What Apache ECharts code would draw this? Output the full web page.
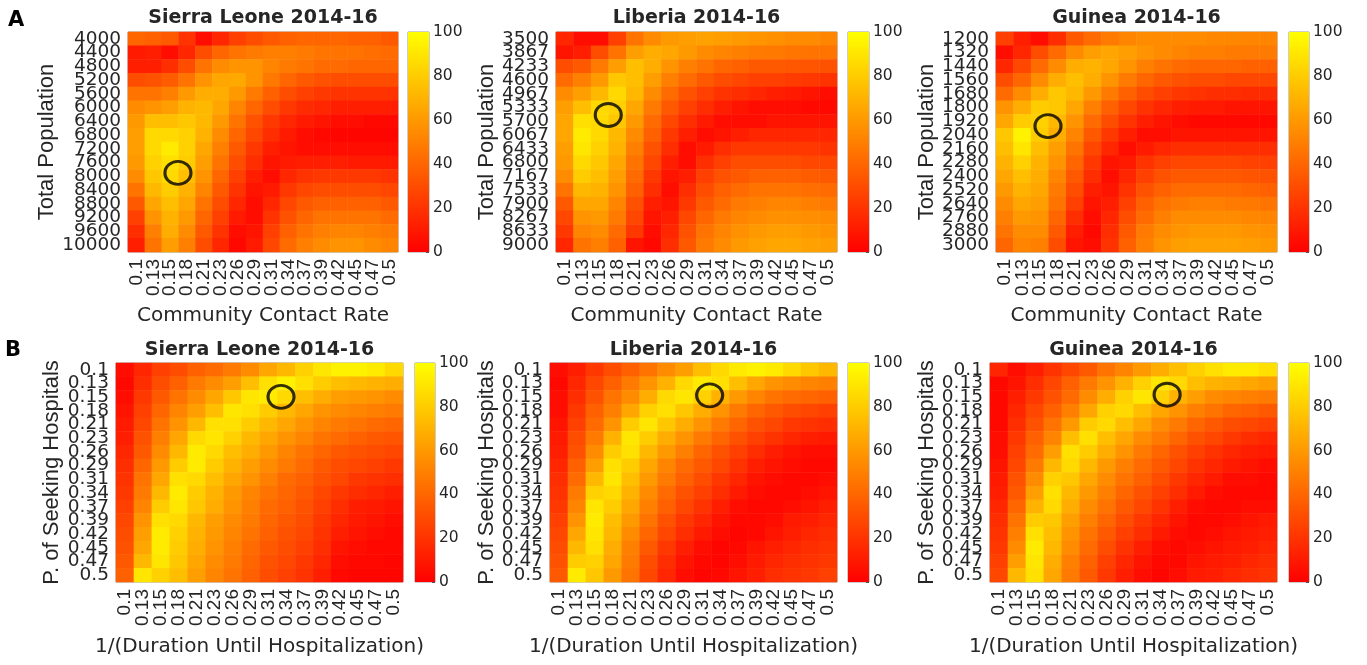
<!DOCTYPE html>
<html>
<head>
<meta charset="utf-8">
<script src="https://cdn.jsdelivr.net/npm/echarts@6.0.0/dist/echarts.min.js"></script>
<style>
html,body{margin:0;padding:0;background:#ffffff;}
#chart{width:1367px;height:665px;}
</style>
</head>
<body>
<div id="chart"></div>
<script>
// ---------- tick labels / categories ----------
const rateTicks = ['0.1','0.13','0.15','0.18','0.21','0.23','0.26','0.29','0.31','0.34','0.37','0.39','0.42','0.45','0.47','0.5'];
const popSierraLeone = ['4000','4400','4800','5200','5600','6000','6400','6800','7200','7600','8000','8400','8800','9200','9600','10000'];
const popLiberia = ['3500','3867','4233','4600','4967','5333','5700','6067','6433','6800','7167','7533','7900','8267','8633','9000'];
const popGuinea = ['1200','1320','1440','1560','1680','1800','1920','2040','2160','2280','2400','2520','2640','2760','2880','3000'];
const colorbarTicks = [0, 20, 40, 60, 80, 100];

// ---------- panel A values (rows: population top->bottom, cols: contact rate) ----------
const heatA_SierraLeone = [
 [40,38,35,20,5,15,25,30,35,38,40,40,40,38,38,35],
 [10,12,5,15,30,40,45,48,50,50,48,46,45,45,43,42],
 [12,12,18,30,45,55,58,58,52,48,45,42,42,40,40,40],
 [30,32,36,45,58,65,66,58,47,40,35,32,30,30,30,30],
 [45,45,50,60,68,68,60,48,38,30,25,22,20,20,20,20],
 [55,58,62,70,72,65,52,40,30,22,17,15,12,12,12,12],
 [60,75,75,78,72,60,45,32,22,15,10,8,5,5,3,3],
 [62,85,85,82,70,55,40,28,18,10,5,3,2,2,2,2],
 [62,85,92,82,65,50,35,22,12,8,5,5,5,5,5,5],
 [60,82,88,80,62,45,30,18,8,10,12,12,12,10,10,10],
 [55,78,85,75,58,40,25,12,5,15,20,22,22,22,22,20],
 [45,72,80,70,52,35,20,8,10,22,28,30,30,30,30,28],
 [35,65,75,65,45,30,15,5,15,28,35,38,38,38,38,35],
 [25,58,70,60,40,25,10,5,20,32,40,45,45,45,45,42],
 [18,50,68,55,35,20,5,8,25,38,45,50,52,52,50,48],
 [12,45,62,50,30,15,3,10,28,42,50,55,58,58,55,52]
];
const heatA_Liberia = [
 [15,5,5,25,45,55,60,62,63,62,60,58,57,55,55,52],
 [8,12,30,45,62,68,65,60,55,52,50,48,47,46,45,45],
 [30,35,48,62,75,68,58,50,45,40,38,35,35,34,33,32],
 [42,50,60,78,75,62,50,42,35,30,28,25,25,23,22,20],
 [55,62,72,85,72,55,42,32,25,20,18,15,12,10,8,5],
 [62,75,85,82,65,48,35,25,18,12,8,5,5,5,3,3],
 [65,88,85,78,60,42,28,18,10,5,5,5,8,8,8,8],
 [65,92,85,72,55,38,22,12,5,8,12,15,15,15,15,15],
 [62,90,82,70,50,32,18,5,10,18,22,22,22,22,22,20],
 [60,85,78,65,45,28,12,5,18,25,30,30,30,30,28,28],
 [55,80,75,62,42,22,8,12,25,32,35,38,38,38,36,35],
 [45,72,70,58,38,18,5,18,30,38,42,45,45,45,43,42],
 [35,65,65,52,32,12,8,22,35,42,48,50,52,52,50,48],
 [28,58,60,48,28,8,12,28,40,48,52,55,57,57,56,55],
 [22,52,55,42,22,5,15,32,45,52,57,60,62,62,60,58],
 [15,45,50,38,8,3,18,35,48,55,60,63,65,65,63,62]
];
const heatA_Guinea = [
 [25,12,5,18,35,42,48,52,55,55,55,55,53,53,52,52],
 [5,15,30,42,55,62,65,62,58,55,52,50,50,48,48,48],
 [15,28,42,55,68,70,65,58,50,45,42,40,40,40,38,38],
 [30,40,55,68,75,68,58,48,40,35,32,30,30,28,28,28],
 [42,55,68,78,72,60,48,38,30,25,22,20,18,18,17,17],
 [58,68,80,78,65,50,38,28,20,15,12,10,10,8,8,8],
 [65,80,82,72,58,42,30,20,12,8,5,3,3,3,3,3],
 [78,95,80,68,52,35,22,12,5,5,8,8,8,8,8,8],
 [75,90,75,62,45,28,15,5,10,15,18,18,18,18,18,18],
 [70,82,70,58,40,22,8,10,20,25,28,28,28,28,26,25],
 [65,75,68,52,35,18,5,15,25,32,35,35,35,35,33,32],
 [60,70,65,48,30,12,8,20,32,38,42,42,42,42,40,38],
 [55,65,62,45,25,8,12,25,38,45,48,50,50,48,47,45],
 [50,60,58,40,18,5,15,30,42,50,55,55,55,55,53,52],
 [45,55,55,35,12,3,18,35,48,55,58,60,60,60,58,57],
 [40,52,50,30,8,5,20,38,50,58,62,63,63,63,62,60]
];

// ---------- panel B values (rows: P. seeking hospitals top->bottom, cols: 1/duration) ----------
const heatB_SierraLeone = [
 [5,15,25,30,38,42,48,55,65,72,82,90,95,95,92,85],
 [3,18,30,38,48,55,62,75,88,95,88,80,75,72,70,68],
 [5,22,35,45,55,65,78,90,92,85,75,68,62,60,58,55],
 [8,25,40,52,62,75,90,88,80,72,65,58,55,52,50,48],
 [10,28,45,58,72,88,88,80,72,65,58,52,48,45,42,40],
 [12,32,50,65,85,90,82,72,65,58,52,45,42,38,35,33],
 [15,35,55,72,92,85,75,68,60,52,45,40,35,32,30,28],
 [18,40,60,80,92,80,70,62,55,48,42,35,30,28,25,22],
 [20,45,65,88,85,75,65,58,50,42,38,32,28,22,20,18],
 [22,48,72,92,80,70,60,52,45,40,35,28,22,18,15,12],
 [25,52,80,90,78,68,58,50,42,38,32,25,18,12,10,8],
 [28,58,88,85,72,62,55,48,40,35,30,22,15,10,8,5],
 [30,62,92,82,70,60,52,45,38,32,28,20,12,8,5,3],
 [32,65,92,80,68,58,50,42,35,30,25,18,8,5,3,3],
 [35,72,90,78,65,55,48,40,32,28,22,15,5,3,3,2],
 [38,90,82,75,62,52,45,38,30,25,20,12,3,2,2,2]
];
const heatB_Liberia = [
 [5,12,22,30,38,45,55,62,75,85,92,95,92,85,78,72],
 [3,15,28,38,48,58,70,85,92,88,75,65,58,55,52,50],
 [5,18,32,45,55,68,85,90,82,70,60,52,45,42,40,38],
 [5,22,38,50,65,82,88,78,68,58,48,40,35,30,28,25],
 [8,25,42,58,80,90,78,68,58,48,40,32,28,22,20,18],
 [10,30,48,70,90,80,68,58,48,40,32,25,20,15,12,10],
 [12,32,55,80,88,72,60,50,40,32,25,18,12,8,5,5],
 [15,38,62,88,80,65,52,42,35,28,20,12,8,5,3,3],
 [18,42,72,90,75,60,48,38,30,22,15,8,5,3,3,5],
 [20,48,82,85,70,55,42,32,25,18,10,5,3,3,5,8],
 [22,52,90,80,65,50,38,28,20,12,5,3,3,5,8,12],
 [25,58,92,75,60,45,32,22,15,8,3,3,5,10,12,15],
 [28,65,90,72,55,40,28,18,10,5,2,3,8,12,15,18],
 [30,72,88,68,50,35,22,12,5,2,3,8,12,15,18,20],
 [32,80,82,65,48,30,18,8,3,2,5,10,15,18,20,22],
 [35,92,78,60,45,28,15,5,2,3,8,12,18,20,22,25]
];
const heatB_Guinea = [
 [15,5,12,20,28,35,45,52,60,68,75,82,88,92,92,88],
 [3,8,18,28,38,48,58,70,82,90,85,75,70,68,65,62],
 [3,12,22,32,42,55,68,82,90,82,70,62,55,52,50,48],
 [3,15,28,38,50,65,82,85,75,65,58,50,45,40,38,35],
 [3,18,32,45,60,80,85,75,65,55,48,40,35,30,28,25],
 [5,22,38,52,75,88,75,65,55,48,40,32,28,22,18,15],
 [5,25,42,62,88,80,68,58,48,40,32,25,20,15,12,10],
 [8,28,48,72,85,72,60,50,42,35,28,20,15,10,8,5],
 [10,32,55,82,78,65,55,45,38,30,22,15,10,5,5,3],
 [12,35,62,88,72,60,50,40,32,25,18,10,5,3,3,3],
 [15,40,70,85,68,55,45,35,28,20,12,5,3,3,5,5],
 [18,45,80,78,62,50,40,30,22,15,8,3,3,5,8,10],
 [20,50,88,75,58,45,35,25,18,10,5,3,5,8,10,12],
 [22,55,92,72,55,42,30,20,12,5,3,5,8,10,12,15],
 [25,62,90,68,50,38,25,15,8,3,3,8,10,12,15,18],
 [28,72,88,65,48,35,22,12,5,2,5,10,12,15,18,20]
];

// ---------- circled points (data units) ----------
const markerA_SierraLeone = [[0.1656, 7900]];
const markerA_Liberia = [[0.166, 5530]];
const markerA_Guinea = [[0.1656, 1962]];
const markerB_SierraLeone = [[0.332, 0.1525]];
const markerB_Liberia = [[0.324, 0.1496]];
const markerB_Guinea = [[0.35, 0.1485]];

// ---------- layout / style ----------
const NARROW = '"Liberation Sans", Arial, sans-serif';
const WIDE = '"DejaVu Sans", sans-serif';
const TXT = '#262626';
const panels = [
  {title:'Sierra Leone 2014-16', xc:rateTicks, yc:popSierraLeone, vals:heatA_SierraLeone, mk:markerA_SierraLeone, xName:'Community Contact Rate', yName:'Total Population', g:{left:128,top:32,width:270,height:220}, cb:{left:408,width:21}, yGap:70, xGap:54, tOff:23},
  {title:'Liberia 2014-16', xc:rateTicks, yc:popLiberia, vals:heatA_Liberia, mk:markerA_Liberia, xName:'Community Contact Rate', yName:'Total Population', g:{left:556,top:32,width:281,height:220}, cb:{left:848,width:21}, yGap:58, xGap:54, tOff:23},
  {title:'Guinea 2014-16', xc:rateTicks, yc:popGuinea, vals:heatA_Guinea, mk:markerA_Guinea, xName:'Community Contact Rate', yName:'Total Population', g:{left:996,top:32,width:281,height:220}, cb:{left:1289,width:20}, yGap:58, xGap:54, tOff:23},
  {title:'Sierra Leone 2014-16', xc:rateTicks, yc:rateTicks, vals:heatB_SierraLeone, mk:markerB_SierraLeone, xName:'1/(Duration Until Hospitalization)', yName:'P. of Seeking Hospitals', g:{left:116,top:363,width:287,height:219}, cb:{left:415,width:20}, yGap:53, xGap:55, tOff:22},
  {title:'Liberia 2014-16', xc:rateTicks, yc:rateTicks, vals:heatB_Liberia, mk:markerB_Liberia, xName:'1/(Duration Until Hospitalization)', yName:'P. of Seeking Hospitals', g:{left:550,top:363,width:287,height:219}, cb:{left:848,width:21}, yGap:52, xGap:55, tOff:22},
  {title:'Guinea 2014-16', xc:rateTicks, yc:rateTicks, vals:heatB_Guinea, mk:markerB_Guinea, xName:'1/(Duration Until Hospitalization)', yName:'P. of Seeking Hospitals', g:{left:990,top:363,width:287,height:219}, cb:{left:1289,width:20}, yGap:52, xGap:55, tOff:22}
];

function extent(labels) {
  const v = labels.map(Number);
  const step = (v[v.length-1] - v[0]) / (v.length - 1);
  return [v[0] - step/2, v[v.length-1] + step/2];
}

const grid = [], xAxis = [], yAxis = [], series = [], graphic = [];
const heatIdx = [];
panels.forEach((p, i) => {
  const gi = grid.length;
  grid.push(Object.assign({show:true, borderColor:'#9a9a9a', borderWidth:1, backgroundColor:'transparent'}, p.g));
  grid.push({show:true, borderColor:'#9a9a9a', borderWidth:1, left:p.cb.left, width:p.cb.width, top:p.g.top, height:p.g.height});

  const xCat = xAxis.length;
  xAxis.push({type:'category', gridIndex:gi, data:p.xc, position:'bottom',
    axisLine:{show:false}, axisTick:{show:false}, splitLine:{show:false},
    axisLabel:{interval:0, rotate:90, fontSize:19, color:TXT, margin:7, fontFamily:NARROW},
    name:p.xName, nameLocation:'middle', nameGap:p.xGap,
    nameTextStyle:{fontSize:20, color:TXT, fontFamily:WIDE}});
  const xv = extent(p.xc);
  const xVal = xAxis.length;
  xAxis.push({type:'value', gridIndex:gi, position:'top', min:xv[0], max:xv[1], show:false});
  const xCb = xAxis.length;
  xAxis.push({type:'category', gridIndex:gi+1, data:['cb'], show:false});

  const yCat = yAxis.length;
  yAxis.push({type:'category', gridIndex:gi, data:p.yc, inverse:true, position:'left',
    axisLine:{show:false}, axisTick:{show:false}, splitLine:{show:false},
    axisLabel:{interval:0, fontSize:18.5, color:TXT, margin:7, fontFamily:WIDE},
    name:p.yName, nameLocation:'middle', nameGap:p.yGap,
    nameTextStyle:{fontSize:22, color:TXT, fontFamily:NARROW}});
  const yv = extent(p.yc);
  const yVal = yAxis.length;
  yAxis.push({type:'value', gridIndex:gi, position:'right', inverse:true, min:yv[0], max:yv[1], show:false});
  const yCb = yAxis.length;
  yAxis.push({type:'value', gridIndex:gi+1, position:'right', min:colorbarTicks[0], max:colorbarTicks[colorbarTicks.length-1], interval:colorbarTicks[1]-colorbarTicks[0],
    axisLine:{show:false}, splitLine:{show:false},
    axisTick:{show:true, inside:true, length:3, lineStyle:{color:'#555'}},
    axisLabel:{fontSize:15.5, color:TXT, margin:4, fontFamily:WIDE}});

  const data = [];
  p.vals.forEach((row, r) => row.forEach((v, c) => data.push([c, r, v])));
  heatIdx.push(series.length);
  series.push({type:'heatmap', xAxisIndex:xCat, yAxisIndex:yCat, data:data, silent:true, emphasis:{disabled:true}, progressive:0});
  series.push({type:'scatter', xAxisIndex:xVal, yAxisIndex:yVal, data:p.mk, symbol:'circle', symbolSize:[26,23], z:5, silent:true,
    itemStyle:{color:'rgba(0,0,0,0)', borderColor:'#000', borderWidth:3}});
  series.push({type:'bar', xAxisIndex:xCb, yAxisIndex:yCb, data:[colorbarTicks[colorbarTicks.length-1]], barWidth:'100%', silent:true,
    itemStyle:{color:new echarts.graphic.LinearGradient(0,0,0,1,[{offset:0,color:'#ffff00'},{offset:1,color:'#ff0000'}])}});

  graphic.push({type:'text', x:p.g.left + p.g.width/2, y:p.g.top - p.tOff,
    style:{text:p.title, font:'bold 19px ' + WIDE, fill:TXT, align:'center', textAlign:'center', verticalAlign:'top', textVerticalAlign:'top'}});
});
graphic.push({type:'text', x:8, y:10, style:{text:'A', font:'bold 21px ' + WIDE, fill:'#000', verticalAlign:'top', textVerticalAlign:'top'}});
graphic.push({type:'text', x:5, y:340, style:{text:'B', font:'bold 21px ' + WIDE, fill:'#000', verticalAlign:'top', textVerticalAlign:'top'}});

const option = {
  animation:false,
  backgroundColor:'#ffffff',
  textStyle:{fontFamily:NARROW},
  grid:grid, xAxis:xAxis, yAxis:yAxis, series:series, graphic:graphic,
  visualMap:{type:'continuous', show:false, min:0, max:100, seriesIndex:heatIdx, inRange:{color:['#ff0000','#ffff00']}}
};
const chart = echarts.init(document.getElementById('chart'), null, {renderer:'canvas'});
chart.setOption(option);
</script>
</body>
</html>
